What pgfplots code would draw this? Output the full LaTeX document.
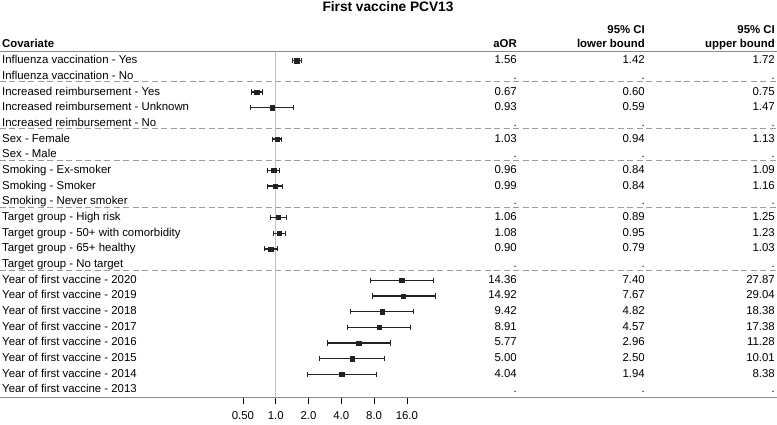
\documentclass[border=0pt]{standalone}
\usepackage{pgfplots}
\pgfplotsset{compat=1.18}
\usepackage{pgfplotstable}
\usepackage{fontspec}
\setmainfont{Liberation Sans}
\definecolor{ebar}{HTML}{222222}
\definecolor{sepgray}{HTML}{9C9C9C}
\definecolor{topgray}{HTML}{8A8A8A}
\definecolor{refgray}{HTML}{C4C4C4}

\pgfplotstableread{
row aor lo hi
0 1.56 1.42 1.72
2 0.67 0.60 0.75
3 0.93 0.59 1.47
5 1.03 0.94 1.13
7 0.96 0.84 1.09
8 0.99 0.84 1.16
10 1.06 0.89 1.25
11 1.08 0.95 1.23
12 0.90 0.79 1.03
14 14.36 7.40 27.87
15 14.92 7.67 29.04
16 9.42 4.82 18.38
17 8.91 4.57 17.38
18 5.77 2.96 11.28
19 5.00 2.50 10.01
20 4.04 1.94 8.38
}\forestdata

\begin{document}
\begin{tikzpicture}[font=\fontsize{11.4}{13.7}\selectfont]
\useasboundingbox (0,0) rectangle (777pt,-424pt);
\begin{axis}[
  at={(0pt,-397.7pt)}, anchor=south west,
  scale only axis, width=777pt, height=346pt,
  xmode=log, log basis x=2,
  xmin=0.002949, xmax=39886,
  ymin=-0.574, ymax=21.49, y dir=reverse,
  enlargelimits=false, clip=false,
  axis y line=none, axis x line*=bottom,
  x axis line style={topgray, line width=1pt},
  xtick={0.5,1,2,4,8,16},
  xticklabels={0.50,1.0,2.0,4.0,8.0,16.0},
  xtick align=outside, major tick length=6.5pt,
  tick style={black, line width=0.8pt},
  xticklabel style={font=\fontsize{11.4}{13.7}\selectfont, yshift=-4pt},
  minor tick num=0,
]
% top solid line
\addplot[topgray, line width=1.3pt] coordinates {(0.002949,-0.574) (39886,-0.574)};
% dashed separators
\addplot[sepgray, line width=1pt, dash pattern=on 6pt off 3.5pt] coordinates {(0.002949,1.35) (39886,1.35)};
\addplot[sepgray, line width=1pt, dash pattern=on 6pt off 3.5pt] coordinates {(0.002949,4.35) (39886,4.35)};
\addplot[sepgray, line width=1pt, dash pattern=on 6pt off 3.5pt] coordinates {(0.002949,6.35) (39886,6.35)};
\addplot[sepgray, line width=1pt, dash pattern=on 6pt off 3.5pt] coordinates {(0.002949,9.35) (39886,9.35)};
\addplot[sepgray, line width=1pt, dash pattern=on 6pt off 3.5pt] coordinates {(0.002949,13.35) (39886,13.35)};
% reference line at 1
\addplot[refgray, line width=1pt] coordinates {(1,-0.574) (1,21.49)};
% confidence intervals
\pgfplotsset{ci/.style={ebar, line width=1.4pt, mark=|, mark size=2.6pt, mark options={line width=1pt}}}
\addplot[ci] coordinates {(1.42,0) (1.72,0)};
\addplot[ci] coordinates {(0.60,2) (0.75,2)};
\addplot[ci] coordinates {(0.59,3) (1.47,3)};
\addplot[ci] coordinates {(0.94,5) (1.13,5)};
\addplot[ci] coordinates {(0.84,7) (1.09,7)};
\addplot[ci] coordinates {(0.84,8) (1.16,8)};
\addplot[ci] coordinates {(0.89,10) (1.25,10)};
\addplot[ci] coordinates {(0.95,11) (1.23,11)};
\addplot[ci] coordinates {(0.79,12) (1.03,12)};
\addplot[ci] coordinates {(7.40,14) (27.87,14)};
\addplot[ci] coordinates {(7.67,15) (29.04,15)};
\addplot[ci] coordinates {(4.82,16) (18.38,16)};
\addplot[ci] coordinates {(4.57,17) (17.38,17)};
\addplot[ci] coordinates {(2.96,18) (11.28,18)};
\addplot[ci] coordinates {(2.50,19) (10.01,19)};
\addplot[ci] coordinates {(1.94,20) (8.38,20)};
% point estimates
\addplot[only marks, mark=square*, mark size=2.1pt, ebar] table[x=aor, y=row] {\forestdata};
\end{axis}

% title and headers
\node[anchor=base, inner sep=0, font=\fontsize{13.7}{16}\selectfont\bfseries] at (388pt,-11.6pt) {First vaccine PCV13};
\node[anchor=base west, inner sep=0, font=\fontsize{11.4}{13.7}\selectfont\bfseries] at (2pt,-47pt) {Covariate};
\node[anchor=base east, inner sep=0, font=\fontsize{11.4}{13.7}\selectfont\bfseries] at (517pt,-47pt) {aOR};
\node[anchor=base east, inner sep=0, font=\fontsize{11.4}{13.7}\selectfont\bfseries] at (645pt,-33pt) {95\% CI};
\node[anchor=base east, inner sep=0, font=\fontsize{11.4}{13.7}\selectfont\bfseries] at (645pt,-47pt) {lower bound};
\node[anchor=base east, inner sep=0, font=\fontsize{11.4}{13.7}\selectfont\bfseries] at (775pt,-33pt) {95\% CI};
\node[anchor=base east, inner sep=0, font=\fontsize{11.4}{13.7}\selectfont\bfseries] at (775pt,-47pt) {upper bound};

% rows
\foreach \i/\lab/\a/\l/\h in {
 0/Influenza vaccination - Yes/1.56/1.42/1.72,
 1/Influenza vaccination - No/./././,
 2/Increased reimbursement - Yes/0.67/0.60/0.75,
 3/Increased reimbursement - Unknown/0.93/0.59/1.47,
 4/Increased reimbursement - No/./././,
 5/Sex - Female/1.03/0.94/1.13,
 6/Sex - Male/./././,
 7/Smoking - Ex-smoker/0.96/0.84/1.09,
 8/Smoking - Smoker/0.99/0.84/1.16,
 9/Smoking - Never smoker/./././,
 10/Target group - High risk/1.06/0.89/1.25,
 11/Target group - 50+ with comorbidity/1.08/0.95/1.23,
 12/Target group - 65+ healthy/0.90/0.79/1.03,
 13/Target group - No target/./././,
 14/Year of first vaccine - 2020/14.36/7.40/27.87,
 15/Year of first vaccine - 2019/14.92/7.67/29.04,
 16/Year of first vaccine - 2018/9.42/4.82/18.38,
 17/Year of first vaccine - 2017/8.91/4.57/17.38,
 18/Year of first vaccine - 2016/5.77/2.96/11.28,
 19/Year of first vaccine - 2015/5.00/2.50/10.01,
 20/Year of first vaccine - 2014/4.04/1.94/8.38,
 21/Year of first vaccine - 2013/./././%
}{
 \pgfmathsetmacro\yy{-(60.7+15.68*\i+3.0)}
 \node[anchor=base west, inner sep=0] at (2pt,\yy pt) {\lab};
 \node[anchor=base east, inner sep=0] at (517pt,\yy pt) {\a};
 \node[anchor=base east, inner sep=0] at (645pt,\yy pt) {\l};
 \node[anchor=base east, inner sep=0] at (775pt,\yy pt) {\h};
}
\end{tikzpicture}
\end{document}
